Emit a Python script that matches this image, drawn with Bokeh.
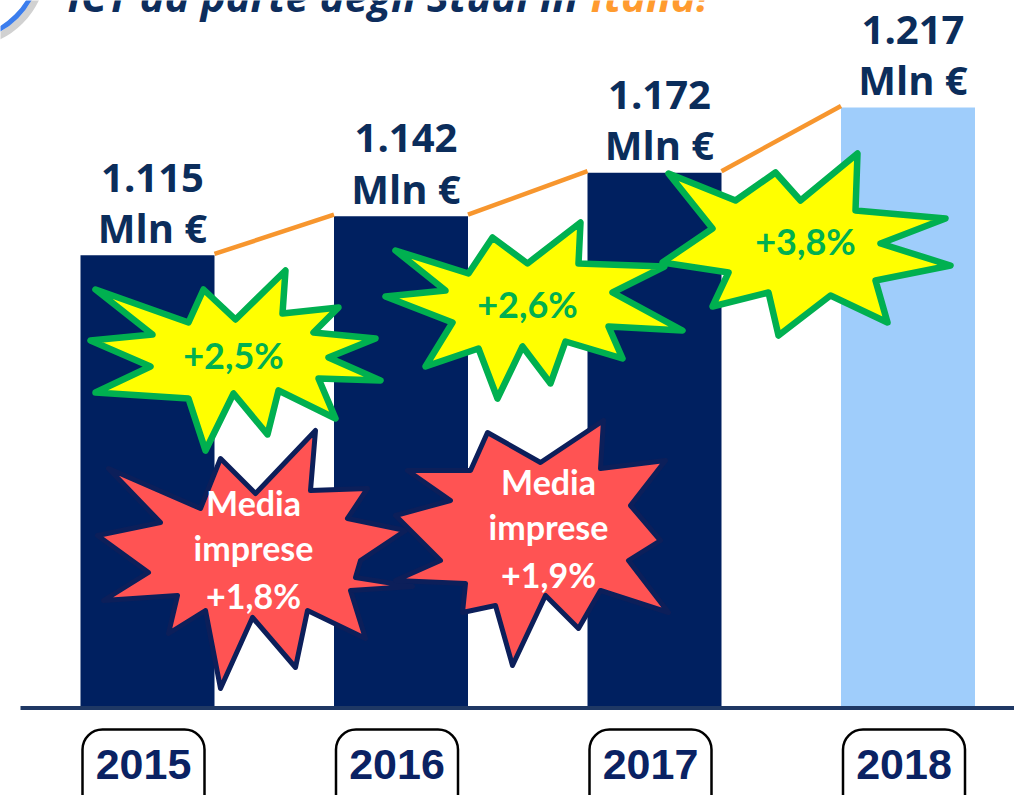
from bokeh.plotting import figure
from bokeh.models import Range1d, BoxAnnotation
from bokeh.core.properties import value
from bokeh.embed import file_html
from bokeh.resources import INLINE

# ---------------- data ----------------
years = ["2015", "2016", "2017", "2018"]
spend = [1115, 1142, 1172, 1217]                 # Mln €
spend_labels = ["1.115", "1.142", "1.172", "1.217"]
growth_labels = ["+2,5%", "+2,6%", "+3,8%"]      # year-on-year growth
media_labels = ["+1,8%", "+1,9%"]                # average of companies
bar_colors = ["#002060", "#002060", "#002060", "#9fcdfb"]

# ---------------- layout helpers ----------------
W, H = 1014, 795
BASE_V = 804.0      # value at the bar baseline (truncated axis)
PX = 1.4506         # screen px per Mln €
BASE_SY = 706.0     # screen y of the baseline
SHIFT = 0.37        # text baseline correction (em)


def v(sy):
    """screen pixel y -> data value"""
    return BASE_V + (BASE_SY - sy) / PX


def tv(sy, size):
    """screen baseline y for text of given px size -> data value"""
    return v(sy - SHIFT * size)


p = figure(width=W, height=H, x_range=Range1d(0, W),
           y_range=Range1d(v(H), v(0)),
           output_backend="svg", toolbar_location=None, min_border=0,
           x_axis_location=None, y_axis_location=None)
p.grid.visible = False
p.outline_line_color = None
p.background_fill_color = "white"
p.border_fill_color = "white"

# bar centres / width
X0, STEP, BW = 147.0, 253.5, 134.0
cx = [X0 + STEP * i for i in range(len(years))]

# ---------------- title fragment & decoration ----------------
p.circle(x=[-37], y=[v(-36)], radius=80, fill_color=None,
         line_color="#9a9a9a", line_alpha=0.45, line_width=7)
p.circle(x=[-40], y=[v(-40)], radius=79, fill_color=None,
         line_color="#3b7ded", line_width=5)
TS = 42
p.text(x=[67], y=[tv(11, TS)], text=["ICT da parte degli Studi in"],
       text_font=value("Open Sans"), text_font_style="bold italic",
       text_font_size=f"{TS}px", text_color="#0d2d5c",
       text_align="left", text_baseline="alphabetic")
p.text(x=[590], y=[tv(11, TS)], text=["Italia!"],
       text_font=value("Open Sans"), text_font_style="bold italic",
       text_font_size=f"{TS}px", text_color="#ff9b2f",
       text_align="left", text_baseline="alphabetic")

# ---------------- bars ----------------
p.vbar(x=cx, width=BW, top=spend, bottom=BASE_V,
       fill_color=bar_colors, line_color=None)

# baseline
p.line(x=[20, W], y=[v(707.5), v(707.5)], line_color="#1f3864", line_width=4)

# orange connectors between bar tops
p.segment(x0=[c + BW / 2 for c in cx[:-1]], y0=[s + 1.5 / PX for s in spend[:-1]],
          x1=[c - BW / 2 for c in cx[1:]], y1=[s + 1.5 / PX for s in spend[1:]],
          line_color="#f7962e", line_width=4.5)

# value labels
VS = 40
p.text(x=[c + 5 for c in cx], y=[s + (63 + SHIFT * VS) / PX for s in spend], text=spend_labels,
       text_font=value("Open Sans"), text_font_style="bold", text_font_size=f"{VS}px",
       text_color="#0b2d5b", text_align="center", text_baseline="alphabetic")
p.text(x=[c + 5 for c in cx], y=[s + (13 + SHIFT * VS) / PX for s in spend], text=["Mln €"] * 4,
       text_font=value("Open Sans"), text_font_style="bold", text_font_size=f"{VS}px",
       text_color="#0b2d5b", text_align="center", text_baseline="alphabetic")

# ---------------- starbursts (decorative shapes, screen px) ----------------
yellow_stars = [
    [(95, 289), (188, 322), (203, 289), (235, 319), (285, 270), (282, 313), (338, 307),
     (313, 332), (375, 338), (328, 357), (380, 380), (318, 378), (335, 418), (278, 390),
     (267, 434), (233, 393), (205, 450), (188, 398), (95, 392), (150, 366), (90, 340),
     (152, 334)],
    [(395, 250), (468, 273), (492, 237), (527, 263), (580, 222), (578, 263), (664, 266),
     (612, 292), (682, 330), (608, 326), (622, 358), (565, 341), (550, 383), (522, 346),
     (497, 398), (478, 348), (425, 366), (452, 322), (385, 296), (445, 290)],
    [(668, 173), (735, 200), (775, 172), (800, 200), (857, 153), (855, 210), (945, 218),
     (880, 243), (950, 265), (875, 280), (887, 322), (830, 295), (778, 335), (768, 292),
     (712, 306), (728, 272), (662, 262), (712, 228)],
]
red_stars = [
    [(315, 430), (310, 490), (367, 488), (347, 518), (405, 530), (360, 560), (355, 577),
     (412, 586), (350, 590), (365, 638), (307, 610), (295, 667), (252, 617), (220, 688),
     (205, 610), (168, 633), (177, 595), (103, 600), (148, 572), (97, 535), (160, 522),
     (108, 468), (200, 508), (220, 458), (255, 493)],
    [(603, 420), (600, 468), (665, 460), (630, 505), (660, 540), (628, 560), (668, 612),
     (600, 590), (578, 628), (545, 595), (512, 665), (495, 605), (462, 612), (465, 583),
     (395, 580), (440, 560), (395, 515), (450, 500), (407, 470), (470, 470), (487, 432),
     (540, 462)],
]

p.patches(xs=[[pt[0] for pt in s] for s in yellow_stars],
          ys=[[v(pt[1]) for pt in s] for s in yellow_stars],
          fill_color="#ffff00", line_color="#00b050", line_width=6.5, line_join="round")

GS = 36
growth_pos = [(233, 368), (527, 317), (805, 254)]
p.text(x=[q[0] for q in growth_pos], y=[tv(q[1], GS) for q in growth_pos], text=growth_labels,
       text_font=value("Lato"), text_font_style="bold", text_font_size=f"{GS}px",
       text_color="#00b050", text_align="center", text_baseline="alphabetic")

p.patches(xs=[[pt[0] for pt in s] for s in red_stars],
          ys=[[v(pt[1]) for pt in s] for s in red_stars],
          fill_color="#ff5353", line_color="#0c1f5a", line_width=5, line_join="round")

MS = 34
media_pos = [(253, 515), (548, 494)]
for (mx, my), lab in zip(media_pos, media_labels):
    p.text(x=[mx, mx, mx], y=[tv(my, MS), tv(my + 45, MS), tv(my + 93, MS)],
           text=["Media", "imprese", lab],
           text_font=value("Lato"), text_font_style="bold", text_font_size=f"{MS}px",
           text_color="white", text_align="center", text_baseline="alphabetic")

# ---------------- year labels in rounded boxes ----------------
for c in cx:
    p.add_layout(BoxAnnotation(left=c - 4 - 61, right=c - 4 + 61,
                               top=v(729), bottom=v(840), border_radius=20,
                               fill_color=None, line_color="black", line_alpha=1.0,
                               line_width=2.5))
YS = 43
p.text(x=[c - 4 for c in cx], y=[tv(780, YS)] * 4, text=years,
       text_font=value("Liberation Sans"), text_font_style="bold", text_font_size=f"{YS}px",
       text_color="#0a2263", text_align="center", text_baseline="alphabetic")

open("out.html", "w").write(file_html(p, INLINE))
